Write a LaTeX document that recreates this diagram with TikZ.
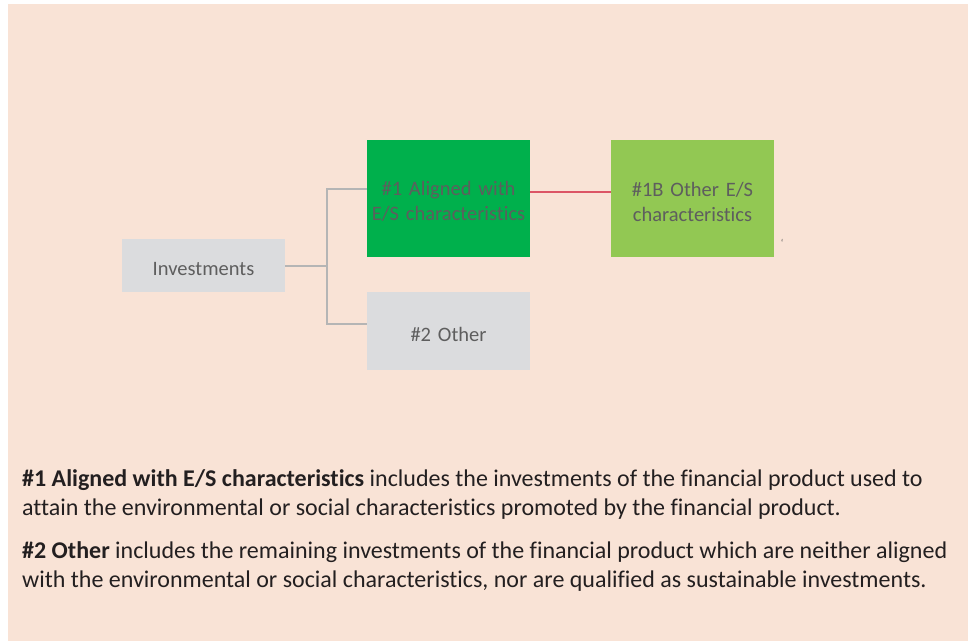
\documentclass[tikz,border=0pt]{standalone}
\usepackage{fontspec}
\setmainfont[Ligatures=NoCommon]{Carlito}
\definecolor{peach}{HTML}{F9E3D6}
\definecolor{boxgray}{HTML}{DBDCDE}
\definecolor{darkgreen}{HTML}{00B04C}
\definecolor{lightgreen}{HTML}{92C853}
\definecolor{txtgray}{HTML}{5E5E5E}
\definecolor{conngray}{HTML}{B5B5B5}
\definecolor{redline}{HTML}{DC5566}
\definecolor{bodytxt}{HTML}{231F20}
\begin{document}
\begin{tikzpicture}[x=1pt,y=-1pt,
  box/.style={rectangle,inner sep=0pt,minimum width=163pt},
  boxtxt/.style={inner sep=0pt,text width=160pt,align=center,
    text=txtgray,font=\fontsize{20.5}{25}\selectfont},
  conn/.style={draw=conngray,line width=2pt},
  rconn/.style={draw=redline,line width=2pt},
  bodyline/.style={anchor=base west,inner sep=0pt,text=bodytxt,font=\fontsize{24}{29}\selectfont}]
\useasboundingbox (0,0) rectangle (968,641);
\fill[white] (0,0) rectangle (968,641);
\fill[peach] (8,4) rectangle (968,641);
% boxes
\node[box,fill=boxgray,minimum height=53pt] (inv) at (203.5,265.5) {};
\node[box,fill=darkgreen,minimum height=117pt] (a1) at (448.5,198.5) {};
\node[box,fill=boxgray,minimum height=78pt] (o2) at (448.5,331) {};
\node[box,fill=lightgreen,minimum height=117pt] (b1) at (692.5,198.5) {};
\node[boxtxt] (invt) at ([yshift=-3pt]inv.center) {Investments};
\node[boxtxt] (a1t) at ([yshift=-3pt]a1.center) {\#1 Aligned with\\E/S characteristics};
\node[boxtxt] (o2t) at ([yshift=-3pt]o2.center) {\#2 Other};
\node[boxtxt] (b1t) at ([yshift=-3pt]b1.center) {\#1B Other E/S\\characteristics};
\node[inner sep=0pt,text=txtgray,font=\fontsize{10}{10}\selectfont] (tick) at (782,243) {`};
% connectors
\coordinate (j) at (327,266);
\coordinate (ja) at (327,189);
\coordinate (jb) at (327,324);
\coordinate (r) at (570,191.5);
\draw[conn] (inv.east |- j) -- (j);
\draw[conn] (a1.west |- ja) -- (ja) -- (jb) -- (o2.west |- jb);
\draw[rconn] (a1.east |- r) -- (b1.west |- r);
% explanatory text
\node[bodyline] (t1) at (22,486) {\textbf{\#1 Aligned with E/S characteristics} includes the investments of the financial product used to};
\node[bodyline] (t2) at (22,515) {attain the environmental or social characteristics promoted by the financial product.};
\node[bodyline] (t3) at (22,558) {\textbf{\#2 Other} includes the remaining investments of the financial product which are neither aligned};
\node[bodyline] (t4) at (22,587) {with the environmental or social characteristics, nor are qualified as sustainable investments.};
\end{tikzpicture}
\end{document}
